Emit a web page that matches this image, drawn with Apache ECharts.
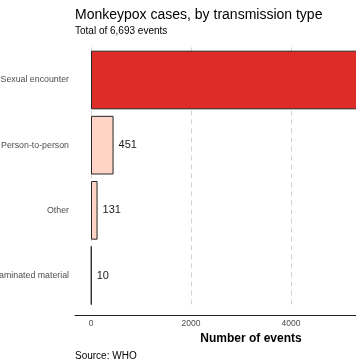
<!DOCTYPE html>
<html><head><meta charset="utf-8">
<script src="https://cdn.jsdelivr.net/npm/echarts@6/dist/echarts.min.js"></script>
<style>html,body{margin:0;padding:0;background:#fff}#c{width:356px;height:364px}</style>
</head><body><div id="c"></div>
<script>
const categories = ["Sexual encounter", "Person-to-person", "Other", "Contaminated material"];
const values = [6101, 451, 131, 10];
const xTicks = [0, 2000, 4000, 6000];
const titleText = "Monkeypox cases, by transmission type";
const subtitleText = "Total of 6,693 events";
const sourceText = "Source: WHO";
const xName = "Number of events";

const maxVal = Math.max(...values);
const chart = echarts.init(document.getElementById('c'), null, {renderer: 'canvas'});
const font = 'Liberation Sans, Arial, sans-serif';
chart.setOption({
  animation: false,
  backgroundColor: '#fff',
  textStyle: {fontFamily: font},
  title: [
    {text: titleText, left: 70, top: 3, textStyle: {fontFamily: font, fontSize: 14, fontWeight: 'normal', color: '#000'}},
    {text: subtitleText, left: 70, top: 21, textStyle: {fontFamily: font, fontSize: 10, fontWeight: 'normal', color: '#000'}},
    {text: sourceText, left: 70, top: 346, textStyle: {fontFamily: font, fontSize: 10, fontWeight: 'normal', color: '#000'}}
  ],
  grid: {left: 75, right: -71, top: 47.4, bottom: 364 - 308.1, containLabel: false, outerBoundsMode: 'none'},
  xAxis: {
    type: 'value', min: -320, max: 6720, offset: 7,
    name: xName, nameLocation: 'middle', nameGap: 15,
    nameTextStyle: {fontFamily: font, fontSize: 12, fontWeight: 'bold', color: '#000'},
    axisLine: {show: true, lineStyle: {color: '#222', width: 1}},
    axisTick: {show: false, customValues: xTicks},
    axisLabel: {customValues: xTicks, formatter: v => String(v), fontSize: 8.5, color: '#4d4d4d', margin: 4, fontFamily: font},
    splitLine: {show: true, lineStyle: {color: '#c8c8c8', type: [5, 4], width: 0.8}}
  },
  yAxis: {
    type: 'category', data: categories, inverse: true,
    axisLine: {show: false}, axisTick: {show: false},
    axisLabel: {fontSize: 8.8, color: '#4d4d4d', margin: 6, fontFamily: font}
  },
  series: [{
    type: 'bar', data: values, barCategoryGap: '10%',
    itemStyle: {
      color: p => p.value === maxVal ? '#DE2D26' : '#FDD4C5',
      borderColor: '#262626', borderWidth: 1
    },
    label: {show: true, position: 'right', distance: 5, fontSize: 11, color: '#1a1a1a', fontFamily: font}
  }]
});
</script></body></html>
